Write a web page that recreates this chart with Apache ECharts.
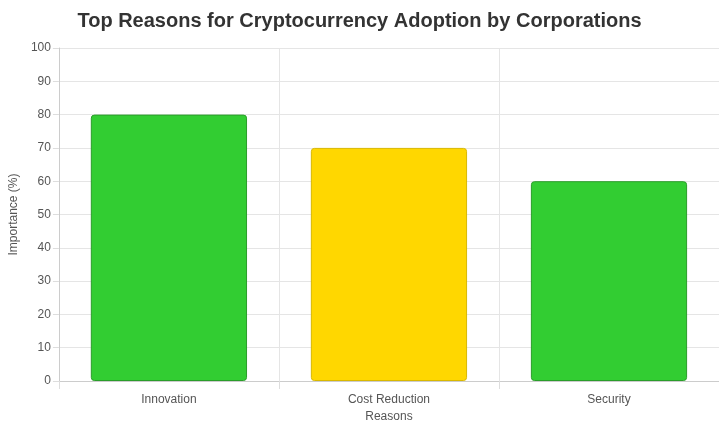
<!DOCTYPE html>
<html>
<head>
<meta charset="utf-8">
<script src="https://cdn.jsdelivr.net/npm/echarts@6/dist/echarts.min.js"></script>
<style>html,body{margin:0;padding:0;background:#fff}#chart{width:719px;height:433px}</style>
</head>
<body>
<div id="chart"></div>
<script>
var reasons = ["Innovation", "Cost Reduction", "Security"]
var importance = [80, 70, 60]
var barColors = ["#32CD32", "#FFD700", "#32CD32"]
var borderColors = ["#2a9d2a", "#d9b800", "#2a9d2a"]

var chart = echarts.init(document.getElementById("chart"))
chart.setOption({
    title: {
        text: "Top Reasons for Cryptocurrency Adoption by Corporations",
        left: "center",
        top: 6,
        textStyle: { fontFamily: "Arial, Liberation Sans", fontSize: 20, fontWeight: "bold", color: "#333" }
    },
    grid: { left: 56, right: 0, top: 48, bottom: 52 },
    xAxis: {
        type: "category",
        data: reasons,
        name: "Reasons",
        nameLocation: "middle",
        nameGap: 22,
        nameTextStyle: { color: "#555", fontSize: 12 },
        axisLine: { lineStyle: { color: "#ccc" } },
        axisTick: { show: true, alignWithLabel: false, length: 8, lineStyle: { color: "#ddd" } },
        axisLabel: { color: "#555", fontSize: 12, margin: 13 },
        splitLine: { show: true, lineStyle: { color: "#e5e5e5" } }
    },
    yAxis: {
        type: "value",
        min: 0, max: 100, interval: 10,
        name: "Importance (%)",
        nameLocation: "middle",
        nameGap: 38,
        nameTextStyle: { color: "#555", fontSize: 12 },
        axisLine: { show: true, lineStyle: { color: "#ccc" } },
        axisTick: { show: true, length: 6, lineStyle: { color: "#ddd" } },
        axisLabel: { color: "#555", fontSize: 12 },
        splitLine: { lineStyle: { color: "#e5e5e5" } }
    },
    series: [{
        type: "bar",
        barWidth: "71%",
        data: importance.map(function (v, i) {
            return { value: v, itemStyle: { color: barColors[i], borderColor: borderColors[i], borderWidth: 1, borderRadius: 3 } }
        })
    }]
})
</script>
</body>
</html>
